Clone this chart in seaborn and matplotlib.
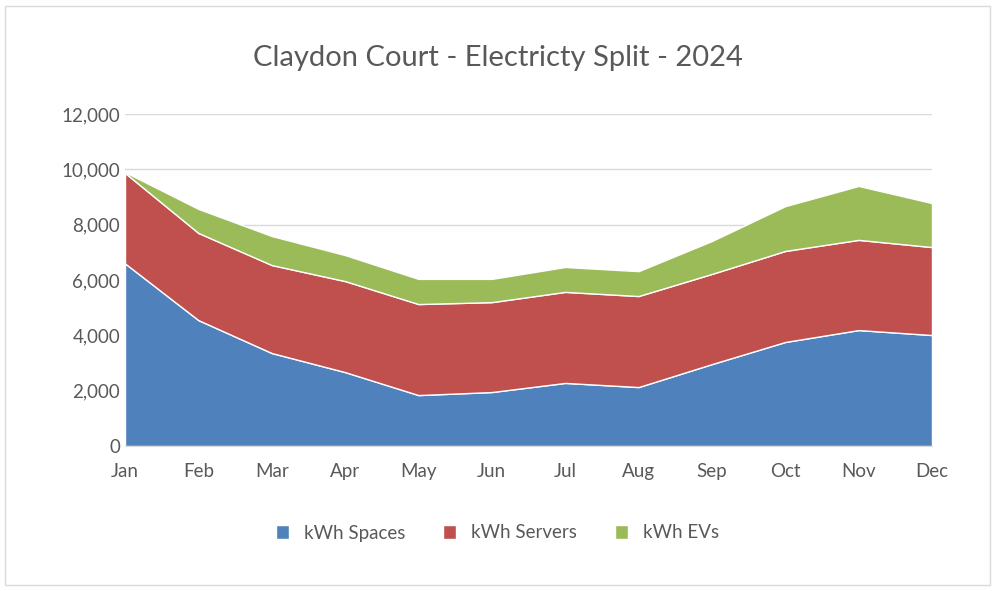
import numpy as np
import matplotlib
matplotlib.use("Agg")
import matplotlib.pyplot as plt
import seaborn as sns
from matplotlib.ticker import FuncFormatter
from matplotlib.patches import Rectangle

sns.set_style("white")
plt.rcParams['font.family'] = ['Lato', 'DejaVu Sans']

months = ["Jan", "Feb", "Mar", "Apr", "May", "Jun", "Jul", "Aug", "Sep", "Oct", "Nov", "Dec"]
kwh_spaces = [6600, 4550, 3360, 2670, 1840, 1950, 2280, 2130, 2960, 3760, 4190, 4010]
kwh_servers = [3270, 3150, 3180, 3290, 3290, 3250, 3290, 3290, 3260, 3290, 3260, 3180]
kwh_evs = [30, 870, 1050, 940, 910, 840, 900, 900, 1190, 1620, 1950, 1590]

colors = ["#4F81BD", "#C0504D", "#9BBB59"]
labels = ["kWh Spaces", "kWh Servers", "kWh EVs"]

fig = plt.figure(figsize=(9.95, 5.91), dpi=100)
ax = fig.add_axes([125 / 995, 1 - 446 / 591, (932 - 125) / 995, (446 - 114) / 591])
x = np.arange(len(months))
ax.stackplot(x, kwh_spaces, kwh_servers, kwh_evs, colors=colors, labels=labels, zorder=2)

ax.set_xlim(0, len(months) - 1)
ax.set_ylim(0, 12000)
ax.set_yticks(range(0, 12001, 2000))
ax.yaxis.set_major_formatter(FuncFormatter(lambda v, p: f"{int(v):,}"))
ax.set_xticks(x)
ax.set_xticklabels(months)
ax.tick_params(axis='both', labelsize=13.5, colors="#595959", length=0)
ax.tick_params(axis='x', pad=12)
ax.grid(axis='y', color="#D9D9D9", linewidth=1, zorder=0)
for s in ["top", "right", "left"]:
    ax.spines[s].set_visible(False)
ax.spines["bottom"].set_color("#D9D9D9")

fig.text(0.5, 1 - 58 / 591, "Claydon Court - Electricty Split - 2024", ha="center", va="center",
         fontsize=21, color="#595959")
fig.legend(loc="center", bbox_to_anchor=(0.5, 1 - 533 / 591), ncol=3, frameon=False,
           fontsize=13.5, labelcolor="#595959", handlelength=0.7, handleheight=0.7,
           columnspacing=2.0)
fig.patches.append(Rectangle((0.005, 0.01), 0.99, 0.98, transform=fig.transFigure,
                             fill=False, edgecolor="#D9D9D9", linewidth=1))

fig.savefig("out.png", dpi=100)
